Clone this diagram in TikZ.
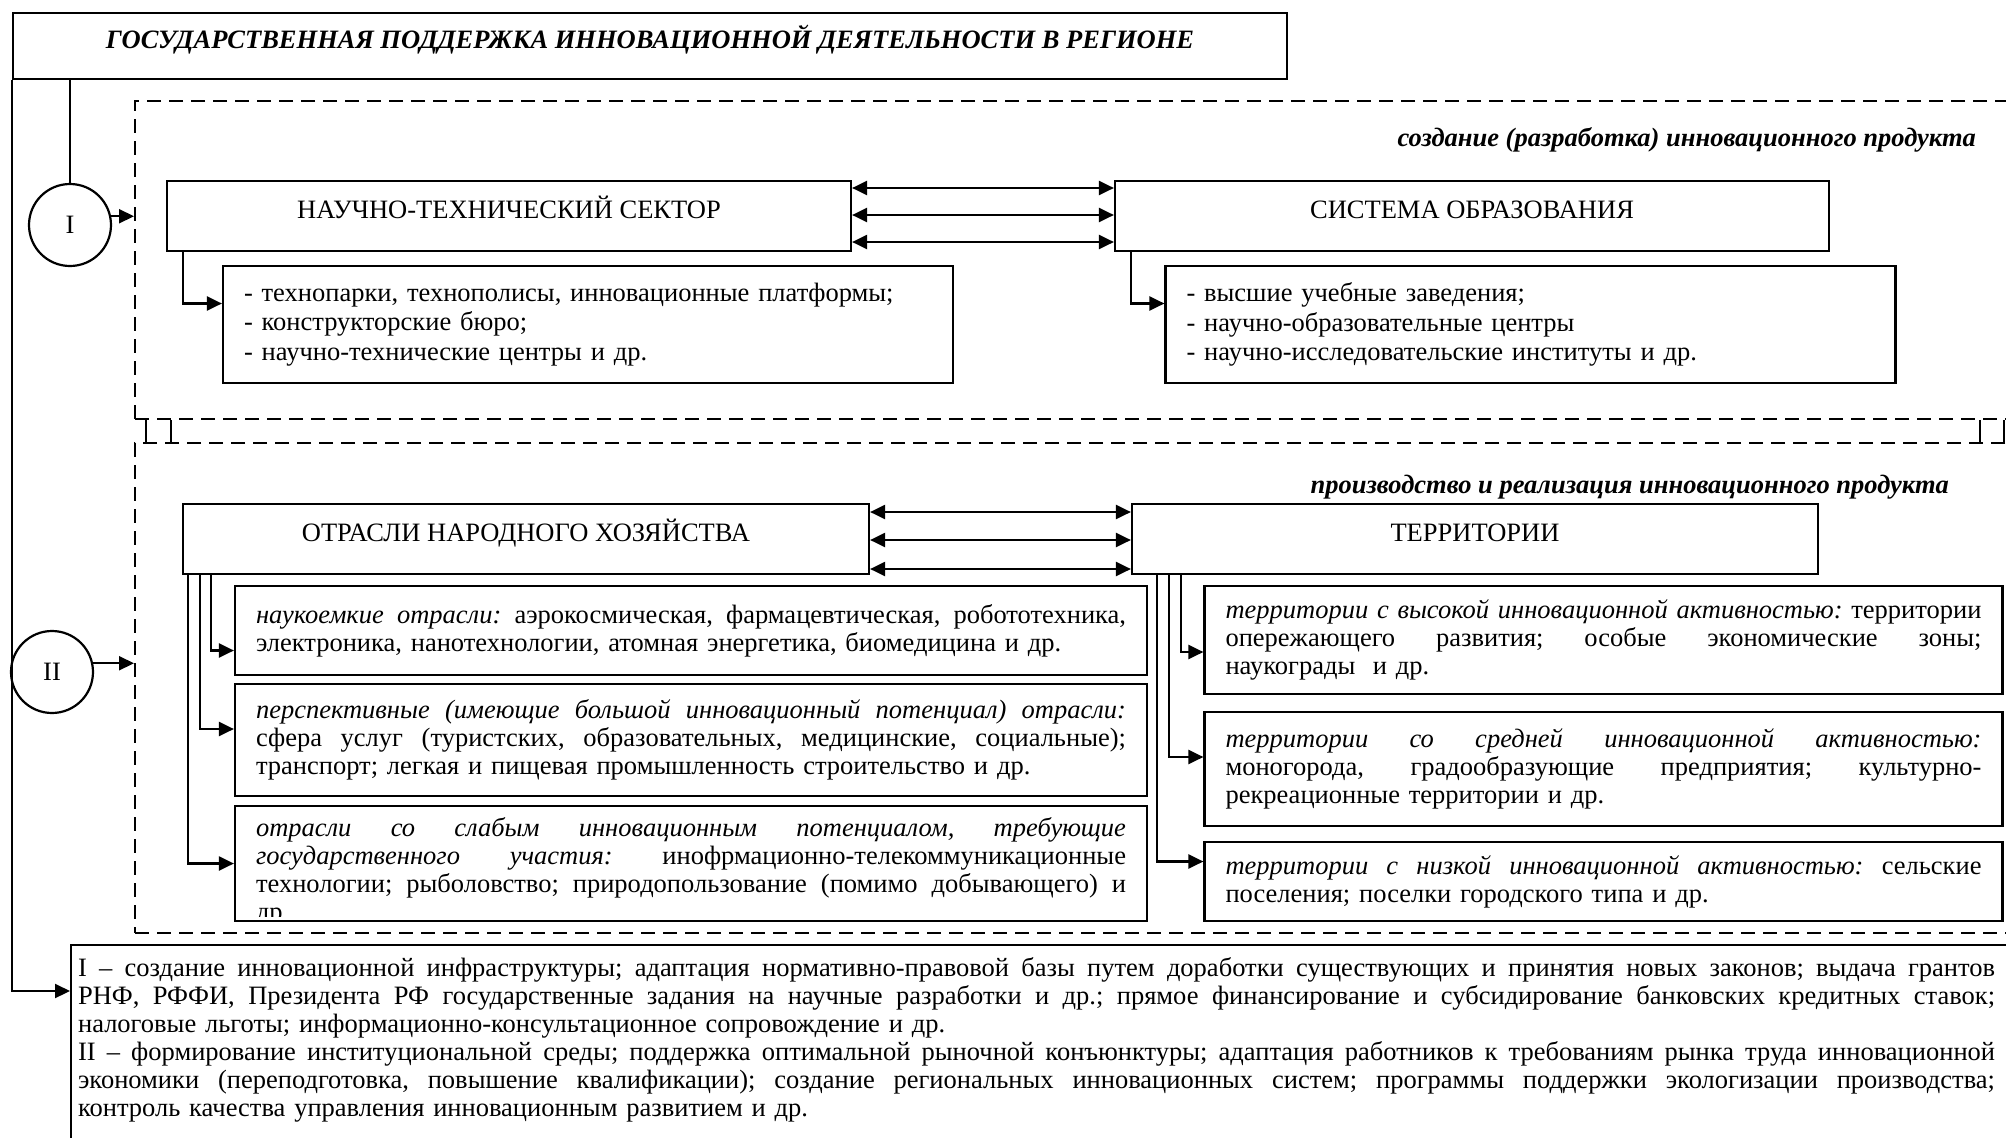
\documentclass[tikz,border=0pt]{standalone}
\usepackage{fontspec}
\setmainfont{Liberation Serif}
\usetikzlibrary{arrows.meta,positioning,calc}

\newcommand{\txtbody}{\fontsize{26.5}{28}\selectfont\frenchspacing}
\newcommand{\txtlist}{\fontsize{26.5}{29.5}\selectfont\frenchspacing}
% a justified line of given width
\newcommand{\jline}[2]{\leavevmode\hbox to #1{\spaceskip=0.25em plus 1fil\relax #2}}

\begin{document}
\begin{tikzpicture}[x=1pt, y=-1pt, line width=2.2pt,
  maintitle/.style={draw, minimum width=1274pt, minimum height=66pt, text height=18pt, text depth=14pt, font=\txtbody\bfseries\itshape},
  zone/.style={draw, line width=2pt, dash pattern=on 14pt off 8pt, anchor=north west, minimum width=1900pt},
  phasecap/.style={anchor=base east, inner sep=0pt, font=\txtbody\bfseries\itshape},
  stage/.style={draw, circle, minimum size=82pt, inner sep=0pt, font=\txtbody},
  head/.style={draw, minimum height=70pt, text height=18pt, text depth=14pt, font=\txtbody},
  sub/.style={draw, inner xsep=21pt, inner ysep=0pt, font=\txtbody},
  link/.style={-{Triangle[length=15pt,width=14pt]}},
  dlink/.style={{Triangle[length=15pt,width=14pt]}-{Triangle[length=15pt,width=14pt]}}]

\useasboundingbox (0,0) rectangle (2006,1138);
\clip (0,0) rectangle (2006,1138);

% Title
\node[maintitle] (T) at (650,46) {ГОСУДАРСТВЕННАЯ ПОДДЕРЖКА ИННОВАЦИОННОЙ ДЕЯТЕЛЬНОСТИ В РЕГИОНЕ};

% Dashed zones and their captions
\node[zone, minimum height=318pt] (Z1) at (134,100) {};
\node[zone, minimum height=490pt] (Z2) at (134,442) {};
\node[phasecap] (cap1) at (1977,146) {создание (разработка) инновационного продукта};
\node[phasecap] (cap2) at (1950,493) {производство и реализация инновационного продукта};
\draw ($(Z1.south west)+(12,0)$) -- ($(Z2.north west)+(12,0)$);
\draw ($(Z1.south west)+(37,0)$) -- ($(Z2.north west)+(37,0)$);
\draw ($(Z1.south west)+(1846,0)$) -- ($(Z2.north west)+(1846,0)$);
\draw ($(Z1.south west)+(1870,0)$) -- ($(Z2.north west)+(1870,0)$);

% Stages I and II
\node[stage] (s1) at (70,225) {I};
\node[stage] (s2) at (52,672) {II};
\draw (T.south -| s1.north) -- (s1.north);
\draw[link] (s1.12) -- (s1.12 -| Z1.west);
\draw[link] (s2.12) -- (s2.12 -| Z2.west);

% Creation: science and education
\node[head, minimum width=684pt] (nts) at (509,216) {НАУЧНО-ТЕХНИЧЕСКИЙ СЕКТОР};
\node[head, minimum width=714pt] (edu) at (1472,216) {СИСТЕМА ОБРАЗОВАНИЯ};
\foreach \dy in {-28,-1,26}
  \draw[dlink] ($(nts.east)+(0,\dy)$) -- ($(edu.west)+(0,\dy)$);

\node[sub, text width=688pt, minimum height=117pt, font=\txtlist] (ntsl) at (588,324.5)
  {- технопарки, технополисы, инновационные платформы;\\
   - конструкторские бюро;\\
   - научно-технические центры и др.};
\node[sub, text width=688pt, minimum height=117pt, font=\txtlist] (edul) at (1530.5,324.5)
  {- высшие учебные заведения;\\
   - научно-образовательные центры\\
   - научно-исследовательские институты и др.};
\draw[link] ($(nts.south west)+(17,0)$) |- ($(ntsl.west)+(0,-21)$);
\draw[link] ($(edu.south west)+(17,0)$) |- ($(edul.west)+(0,-21)$);

% Production: industries and territories
\node[head, minimum width=686pt] (ind) at (526,539) {ОТРАСЛИ НАРОДНОГО ХОЗЯЙСТВА};
\node[head, minimum width=686pt] (ter) at (1475,539) {ТЕРРИТОРИИ};
\foreach \dy in {-27,1,30}
  \draw[dlink] ($(ind.east)+(0,\dy)$) -- ($(ter.west)+(0,\dy)$);

\node[sub, text width=870pt, minimum height=89pt] (ia) at (691,630.5)
  {\jline{870pt}{\textit{наукоемкие отрасли:} аэрокосмическая, фармацевтическая, робототехника,}\\
   электроника, нанотехнологии, атомная энергетика, биомедицина и др.};
\node[sub, text width=870pt, minimum height=112pt] (ib) at (691,740)
  {\jline{870pt}{\textit{перспективные (имеющие большой инновационный потенциал) отрасли:}}\\
   \jline{870pt}{сфера услуг (туристских, образовательных, медицинские, социальные);}\\
   транспорт; легкая и пищевая промышленность строительство и др.};
\node[sub, text width=870pt, minimum height=115pt] (ic) at (691,863.5) {};
\begin{scope}
  \clip ($(ic.north west)+(2,2)$) rectangle ($(ic.south east)+(-2,-6)$);
  \node[anchor=base west, text width=870pt, inner sep=0pt, font=\txtbody] (ictxt) at ($(ic.north west)+(21,32)$)
    {\jline{870pt}{\textit{отрасли со слабым инновационным потенциалом, требующие}}\\
     \jline{870pt}{\textit{государственного участия:} инофрмационно-телекоммуникационные}\\
     \jline{870pt}{технологии; рыболовство; природопользование (помимо добывающего) и}\\
     др.};
\end{scope}
\draw[link] ($(ind.south west)+(29,0)$) |- ($(ia.west)+(0,20)$);
\draw[link] ($(ind.south west)+(18,0)$) |- ($(ib.west)+(0,-11)$);
\draw[link] ($(ind.south west)+(6,0)$) |- (ic.west);

\node[sub, text width=756pt, minimum height=108pt] (td) at (1603.5,640)
  {\jline{756pt}{\textit{территории с высокой инновационной активностью:} территории}\\
   \jline{756pt}{опережающего развития; особые экономические зоны;}\\
   наукограды \ и др.};
\node[sub, text width=756pt, minimum height=114pt] (te) at (1603.5,769)
  {\jline{756pt}{\textit{территории со средней инновационной активностью:}}\\
   \jline{756pt}{моногорода, градообразующие предприятия; культурно-}\\
   рекреационные территории и др.};
\node[sub, text width=756pt, minimum height=79pt] (tf) at (1603.5,881.5)
  {\jline{756pt}{\textit{территории с низкой инновационной активностью:} сельские}\\
   поселения; поселки городского типа и др.};
\draw[link] ($(ter.south west)+(50,0)$) |- ($(td.west)+(0,12)$);
\draw[link] ($(ter.south west)+(38,0)$) |- ($(te.west)+(0,-12)$);
\draw[link] ($(ter.south west)+(26,0)$) |- ($(tf.west)+(0,-20)$);

% Measures of support
\node[draw, minimum width=1960pt, minimum height=220pt, anchor=north west] (note) at (70,944) {};
\node[anchor=base west, text width=1917pt, inner sep=0pt, font=\txtbody] (notetxt) at (77,976)
  {\jline{1917pt}{I – создание инновационной инфраструктуры; адаптация нормативно-правовой базы путем доработки существующих и принятия новых законов; выдача грантов}\\
   \jline{1917pt}{РНФ, РФФИ, Президента РФ государственные задания на научные разработки и др.; прямое финансирование и субсидирование банковских кредитных ставок;}\\
   налоговые льготы; информационно-консультационное сопровождение и др.\\
   \jline{1917pt}{II – формирование институциональной среды; поддержка оптимальной рыночной конъюнктуры; адаптация работников к требованиям рынка труда инновационной}\\
   \jline{1917pt}{экономики (переподготовка, повышение квалификации); создание региональных инновационных систем; программы поддержки экологизации производства;}\\
   контроль качества управления инновационным развитием и др.};
\coordinate (nin) at ($(note.north west)+(0,47)$);
\draw[link] (T.south west) |- (nin);
\end{tikzpicture}
\end{document}
